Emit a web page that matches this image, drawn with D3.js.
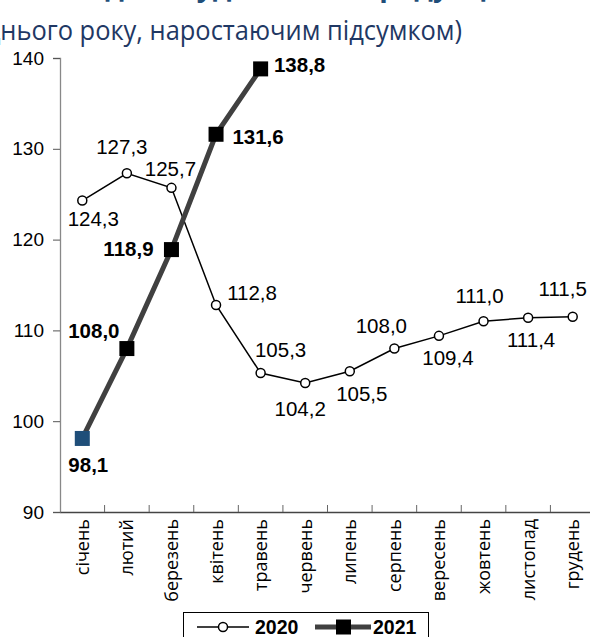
<!DOCTYPE html>
<html><head><meta charset="utf-8">
<script src="https://cdn.jsdelivr.net/npm/d3@7"></script>
<style>body{margin:0;background:#fff;} svg{display:block;}</style>
</head><body>
<svg id="c" width="590" height="637"></svg>
<script>
const months = ["січень","лютий","березень","квітень","травень","червень","липень","серпень","вересень","жовтень","листопад","грудень"];
const values2020 = [124.3,127.3,125.7,112.8,105.3,104.2,105.5,108.0,109.4,111.0,111.4,111.5];
const values2021 = [98.1,108.0,118.9,131.6,138.8];
const yTicks = [90,100,110,120,130,140];
const seriesNames = ["2020","2021"];
// label placement offsets (label centre relative to point)
const lab2020 = [[11,18],[-5,-27],[-1,-19],[36,-12],[20,-23],[-5,26],[12,22],[-13,-23],[9,22],[-4,-26],[3,22],[-10,-28]];
const lab2021 = [[6,26],[-33,-18],[-43,-1],[42,2],[39,-4]];

const svg = d3.select("#c");
const x = d3.scaleBand().domain(months).range([60,595]);
const y = d3.scaleLinear().domain([90,140]).range([512,58]);
const cx = d => x(d) + x.bandwidth()/2;

// Title (cropped at top of the picture)
svg.append("text").attr("x",290).attr("y",-4).attr("text-anchor","middle")
  .attr("font-family","Open Sans, sans-serif").attr("font-weight","bold").attr("font-size",28)
  .attr("fill","#1F4E79").text("Індекс будівельної продукції");
// subtitle
const full = "(у % до відповідного періоду попереднього року, наростаючим підсумком)";
const tail = "нього року, наростаючим підсумком)";
const tmp = svg.append("text").attr("font-family","Open Sans, sans-serif").attr("font-size",20).text(tail);
const tw = tmp.node().getComputedTextLength(); tmp.remove();
svg.append("text").attr("transform","translate(462,40) scale(1,1.06)").attr("text-anchor","end")
  .attr("font-family","Open Sans, sans-serif").attr("font-size",20*462/tw)
  .attr("fill","#1F3864").text(full);

// Y axis
const ya = svg.append("g").attr("transform","translate(60,0)")
  .call(d3.axisLeft(y).tickValues(yTicks).tickSize(7).tickPadding(9).tickFormat(d3.format("d")));
ya.select(".domain").attr("stroke","#888").attr("stroke-width",1.3);
ya.selectAll(".tick line").attr("stroke","#555");
ya.selectAll("text").attr("font-family","Liberation Sans, Arial, sans-serif").attr("font-size",19).attr("fill","#000");

// X axis
const xa = svg.append("g").attr("transform","translate(0,512)")
  .call(d3.axisBottom(x).tickSize(0).tickFormat(""));
xa.select(".domain").attr("stroke","#444").attr("stroke-width",1.3);
svg.append("g").selectAll("line").data(months.slice(1)).join("line")
  .attr("x1",d=>x(d)).attr("x2",d=>x(d)).attr("y1",505).attr("y2",512)
  .attr("stroke","#666").attr("stroke-width",1);
svg.append("g").selectAll("text").data(months).join("text")
  .attr("transform",d=>`translate(${cx(d)+6.5},519) rotate(-90)`)
  .attr("text-anchor","end").attr("font-family","Open Sans, sans-serif").attr("font-size",18)
  .attr("fill","#000").text(d=>d);

// lines
const line = d3.line().x(d=>cx(d.m)).y(d=>y(d.v));
const d2020 = values2020.map((v,i)=>({m:months[i],v}));
const d2021 = values2021.map((v,i)=>({m:months[i],v}));
svg.append("path").datum(d2020).attr("d",line).attr("fill","none").attr("stroke","#000").attr("stroke-width",1.5);
svg.append("g").selectAll("circle").data(d2020).join("circle")
  .attr("cx",d=>cx(d.m)).attr("cy",d=>y(d.v)).attr("r",4.5)
  .attr("fill","#fff").attr("stroke","#000").attr("stroke-width",1.5);

svg.append("path").datum(d2021).attr("d",line).attr("fill","none").attr("stroke","#404040").attr("stroke-width",5);
svg.append("g").selectAll("rect").data(d2021).join("rect")
  .attr("x",d=>cx(d.m)-7.5).attr("y",d=>y(d.v)-7.5).attr("width",15).attr("height",15)
  .attr("fill",(d,i)=>i===0?"#1F4E79":"#000");

const fmt = v => d3.format(".1f")(v).replace(".",",");
const fs = 20.5;
svg.append("g").selectAll("text").data(d2020).join("text")
  .attr("x",(d,i)=>cx(d.m)+lab2020[i][0]).attr("y",(d,i)=>y(d.v)+lab2020[i][1]+fs*0.36)
  .attr("text-anchor","middle").attr("font-family","Liberation Sans, Arial, sans-serif")
  .attr("font-size",fs).attr("fill","#000").text(d=>fmt(d.v));
svg.append("g").selectAll("text").data(d2021).join("text")
  .attr("x",(d,i)=>cx(d.m)+lab2021[i][0]).attr("y",(d,i)=>y(d.v)+lab2021[i][1]+fs*0.36)
  .attr("text-anchor","middle").attr("font-family","Liberation Sans, Arial, sans-serif")
  .attr("font-weight","bold").attr("font-size",fs).attr("fill","#000").text(d=>fmt(d.v));

// legend
const lg = svg.append("g");
lg.append("rect").attr("x",183.5).attr("y",612.5).attr("width",245).attr("height",30)
  .attr("fill","#fff").attr("stroke","#000").attr("stroke-width",1);
lg.append("line").attr("x1",197).attr("x2",249).attr("y1",627).attr("y2",627).attr("stroke","#000").attr("stroke-width",1.5);
lg.append("circle").attr("cx",223).attr("cy",627).attr("r",4.5).attr("fill","#fff").attr("stroke","#000").attr("stroke-width",1.5);
lg.append("text").attr("x",255).attr("y",634).attr("font-family","Liberation Sans, Arial, sans-serif")
  .attr("font-weight","bold").attr("font-size",19.5).text(seriesNames[0]);
lg.append("line").attr("x1",315).attr("x2",371).attr("y1",627).attr("y2",627).attr("stroke","#404040").attr("stroke-width",5);
lg.append("rect").attr("x",336).attr("y",619.5).attr("width",15).attr("height",15).attr("fill","#000");
lg.append("text").attr("x",373).attr("y",634).attr("font-family","Liberation Sans, Arial, sans-serif")
  .attr("font-weight","bold").attr("font-size",19.5).text(seriesNames[1]);
</script>
</body></html>
